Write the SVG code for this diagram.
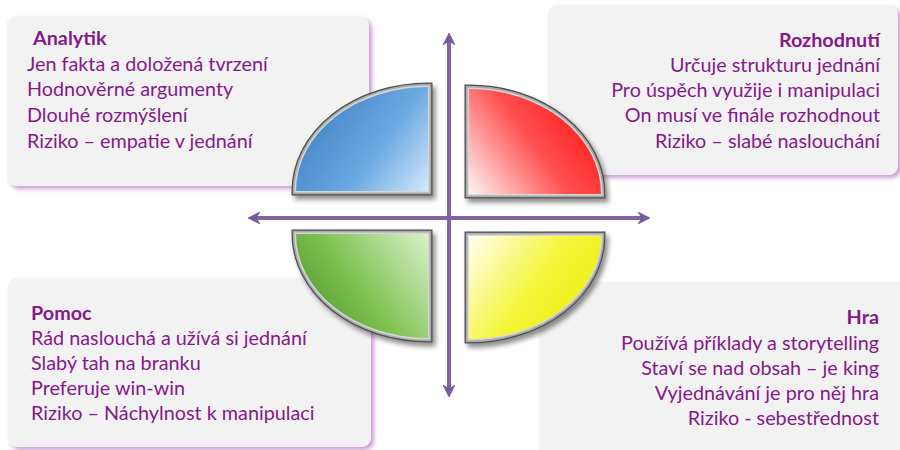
<svg xmlns="http://www.w3.org/2000/svg" width="900" height="450" viewBox="0 0 900 450">
<defs>
<style>
.box{fill:#f2f2f2;filter:url(#boxShadow)}
.t{font-family:Lato,"Open Sans","Liberation Sans",sans-serif;font-size:19.8px;fill:#86198a}
.h{font-weight:bold}
.r{text-anchor:end}
.q1{stroke:#4d4d4d;stroke-width:9;fill:none;stroke-linejoin:miter}
.q2{stroke:#a9a9a9;stroke-width:6.5;fill:none;stroke-linejoin:miter}
.q3{stroke:#d6d6d6;stroke-width:3;fill:none;stroke-linejoin:miter}
.axis{stroke:#8064a2;stroke-width:4;fill:none}
</style>
<filter id="boxShadow" x="-5%" y="-5%" width="115%" height="120%">
<feGaussianBlur in="SourceAlpha" stdDeviation="2"/>
<feOffset dx="3" dy="3" result="b"/>
<feFlood flood-color="#a24fb0" flood-opacity="0.55"/>
<feComposite in2="b" operator="in"/>
<feMerge><feMergeNode/><feMergeNode in="SourceGraphic"/></feMerge>
</filter>
<filter id="qShadow" x="-10%" y="-10%" width="125%" height="130%">
<feGaussianBlur in="SourceAlpha" stdDeviation="2.5"/>
<feOffset dx="3" dy="4" result="b"/>
<feFlood flood-color="#000" flood-opacity="0.45"/>
<feComposite in2="b" operator="in"/>
<feMerge><feMergeNode/><feMergeNode in="SourceGraphic"/></feMerge>
</filter>
<linearGradient id="gBlue" gradientUnits="userSpaceOnUse" x1="296" y1="95" x2="428" y2="191">
<stop offset="0" stop-color="#3a78bc"/><stop offset="0.6" stop-color="#6aa9e2"/><stop offset="1" stop-color="#d2e8fb"/>
</linearGradient>
<linearGradient id="gRed" gradientUnits="userSpaceOnUse" x1="601" y1="96" x2="469" y2="194">
<stop offset="0" stop-color="#ff0a0a"/><stop offset="0.5" stop-color="#ff4f4f"/><stop offset="1" stop-color="#fff4f4"/>
</linearGradient>
<linearGradient id="gGreen" gradientUnits="userSpaceOnUse" x1="296" y1="330" x2="428" y2="234">
<stop offset="0" stop-color="#4a8f2c"/><stop offset="0.45" stop-color="#7cc04f"/><stop offset="1" stop-color="#d9f1c9"/>
</linearGradient>
<linearGradient id="gYellow" gradientUnits="userSpaceOnUse" x1="601" y1="332" x2="469" y2="236">
<stop offset="0" stop-color="#eded00"/><stop offset="0.5" stop-color="#f5f53c"/><stop offset="1" stop-color="#fffff2"/>
</linearGradient>
<marker id="arr" viewBox="0 0 12 12" refX="4" refY="6" markerWidth="12" markerHeight="12" markerUnits="userSpaceOnUse" orient="auto-start-reverse">
<path d="M12,6 L0,0 L4,6 L0,12 Z" fill="#7a5c9e" stroke="#5d4380" stroke-width="0.6"/>
</marker>
</defs>
<rect width="900" height="450" fill="#ffffff"/>

<g id="box-analytik">
<rect class="box" x="7" y="16" width="362" height="170" rx="9"/>
<text class="t h" x="33" y="45">Analytik</text>
<text class="t" x="27" y="70.5">Jen fakta a doložená tvrzení</text>
<text class="t" x="27" y="96">Hodnověrné argumenty</text>
<text class="t" x="27" y="122">Dlouhé rozmýšlení</text>
<text class="t" x="27" y="147.5">Riziko – empatie v jednání</text>
</g>

<g id="box-rozhodnuti">
<rect class="box" x="548" y="5" width="350" height="170" rx="9"/>
<text class="t h r" x="880" y="46.5">Rozhodnutí</text>
<text class="t r" x="880" y="72">Určuje strukturu jednání</text>
<text class="t r" x="880" y="97">Pro úspěch využije i manipulaci</text>
<text class="t r" x="880" y="122">On musí ve finále rozhodnout</text>
<text class="t r" x="880" y="147.5">Riziko – slabé naslouchání</text>
</g>

<g id="box-pomoc">
<rect class="box" x="8" y="278" width="363" height="169" rx="9"/>
<text class="t h" x="31" y="319.5">Pomoc</text>
<text class="t" x="31" y="344.5">Rád naslouchá a užívá si jednání</text>
<text class="t" x="31" y="369.5">Slabý tah na branku</text>
<text class="t" x="31" y="395">Preferuje win-win</text>
<text class="t" x="31" y="419.5">Riziko – Náchylnost k manipulaci</text>
</g>

<g id="box-hra">
<rect class="box" x="539" y="282" width="380" height="190" rx="9"/>
<text class="t h r" x="879" y="323.5">Hra</text>
<text class="t r" x="879" y="349.5">Používá příklady a storytelling</text>
<text class="t r" x="879" y="374.5">Staví se nad obsah – je king</text>
<text class="t r" x="879" y="400">Vyjednávání je pro něj hra</text>
<text class="t r" x="879" y="425">Riziko - sebestřednost</text>
</g>

<g id="quad-blue" filter="url(#qShadow)">
<path class="q1" d="M428,87 L428,191 L296,191 A132,104 0 0 1 428,87 Z"/>
<path class="q2" d="M428,87 L428,191 L296,191 A132,104 0 0 1 428,87 Z"/>
<path class="q3" d="M428,87 L428,191 L296,191 A132,104 0 0 1 428,87 Z"/>
<path d="M428,87 L428,191 L296,191 A132,104 0 0 1 428,87 Z" fill="url(#gBlue)"/>
</g>
<g id="quad-red" filter="url(#qShadow)">
<path class="q1" d="M469,89 A132,105 0 0 1 601,194 L469,194 Z"/>
<path class="q2" d="M469,89 A132,105 0 0 1 601,194 L469,194 Z"/>
<path class="q3" d="M469,89 A132,105 0 0 1 601,194 L469,194 Z"/>
<path d="M469,89 A132,105 0 0 1 601,194 L469,194 Z" fill="url(#gRed)"/>
</g>
<g id="quad-green" filter="url(#qShadow)">
<path class="q1" d="M428,234 L428,338 A132,104 0 0 1 296,234 Z"/>
<path class="q2" d="M428,234 L428,338 A132,104 0 0 1 296,234 Z"/>
<path class="q3" d="M428,234 L428,338 A132,104 0 0 1 296,234 Z"/>
<path d="M428,234 L428,338 A132,104 0 0 1 296,234 Z" fill="url(#gGreen)"/>
</g>
<g id="quad-yellow" filter="url(#qShadow)">
<path class="q1" d="M469,236 L601,236 A132,103 0 0 1 469,339 Z"/>
<path class="q2" d="M469,236 L601,236 A132,103 0 0 1 469,339 Z"/>
<path class="q3" d="M469,236 L601,236 A132,103 0 0 1 469,339 Z"/>
<path d="M469,236 L601,236 A132,103 0 0 1 469,339 Z" fill="url(#gYellow)"/>
</g>

<g id="connectors">
<line class="axis" x1="449" y1="389" x2="449" y2="41" marker-start="url(#arr)" marker-end="url(#arr)"/>
<line class="axis" x1="256" y1="218" x2="642" y2="218" marker-start="url(#arr)" marker-end="url(#arr)"/>
</g>
</svg>
